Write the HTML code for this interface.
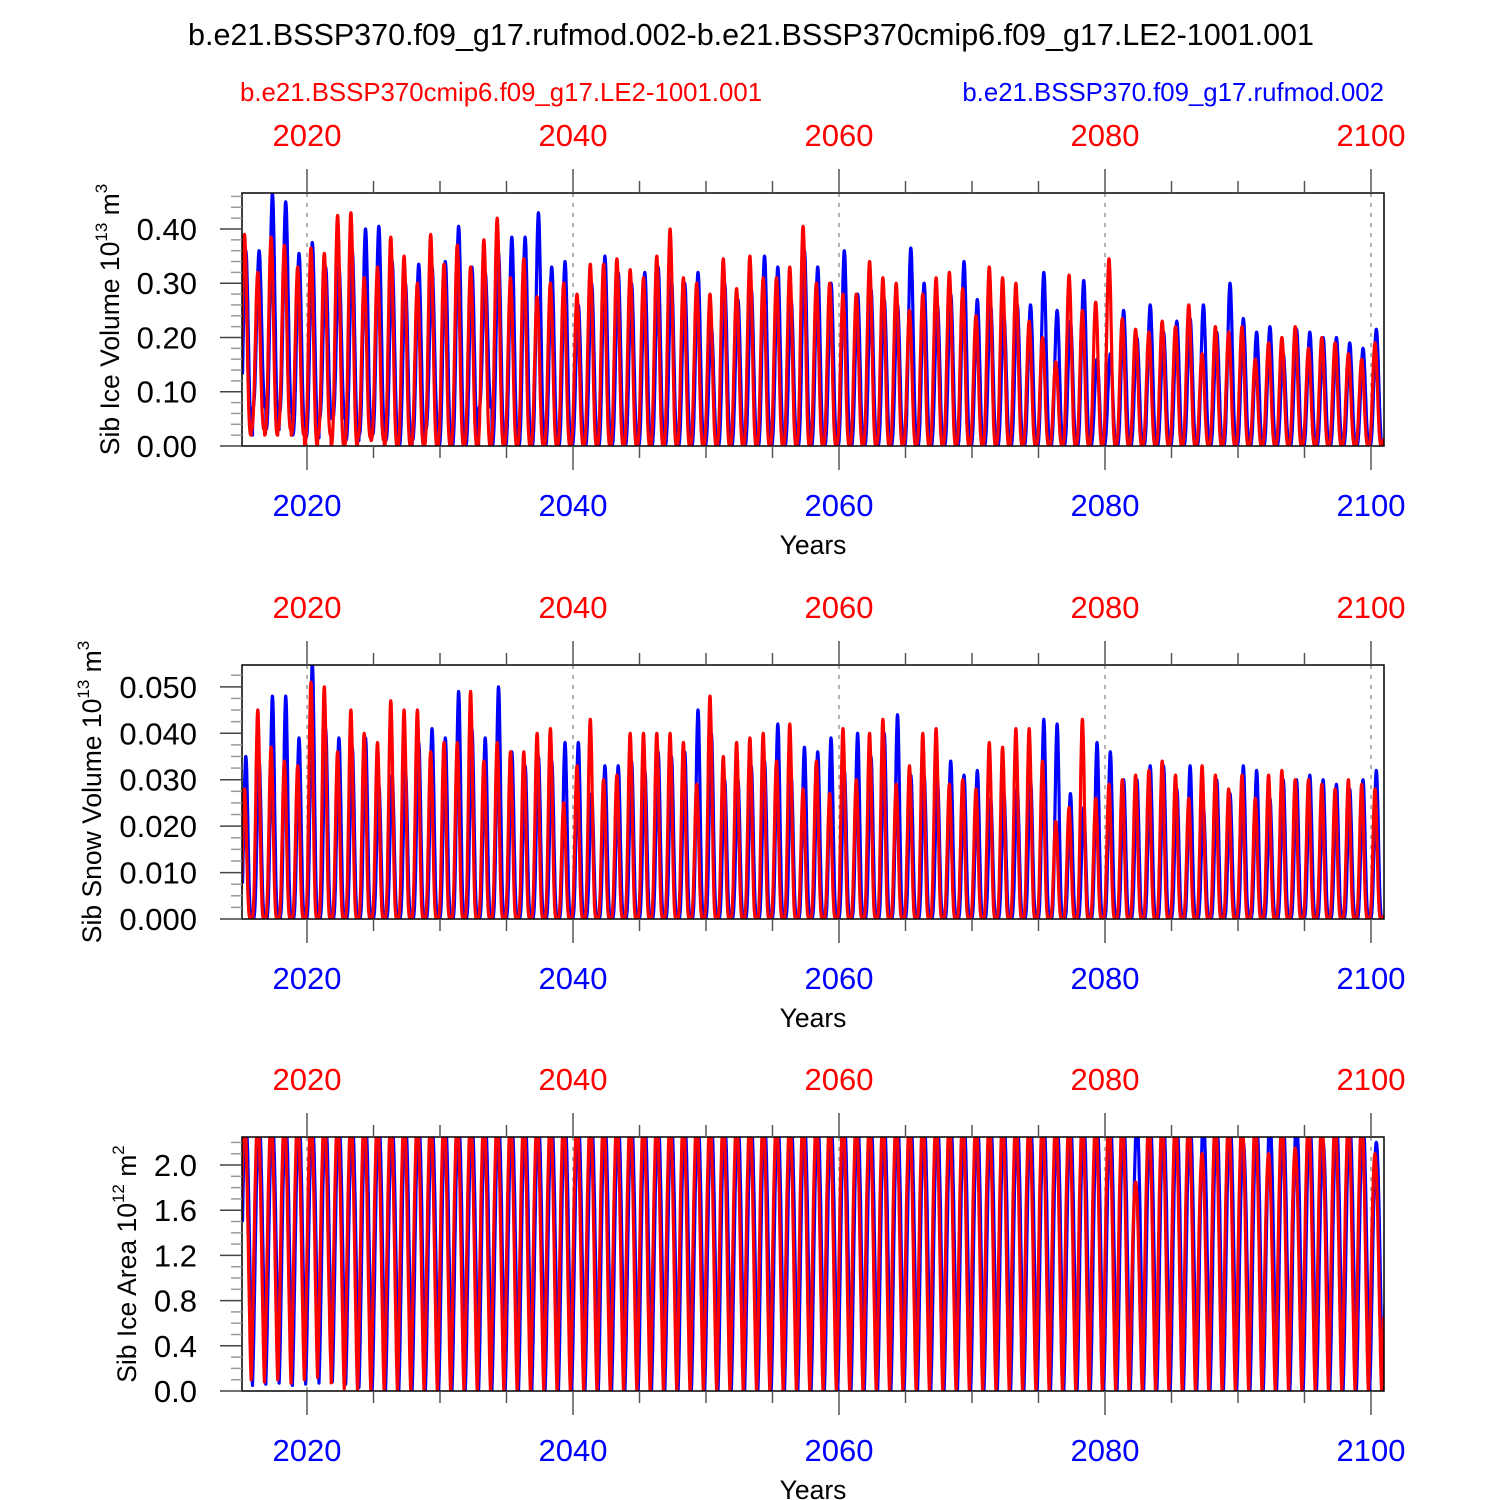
<!DOCTYPE html>
<html><head><meta charset="utf-8"><style>
html,body{margin:0;padding:0;background:#fff;}
svg{display:block;font-family:"Liberation Sans",Arial,sans-serif;}
</style></head><body>
<svg id="chart" width="1500" height="1500" viewBox="0 0 1500 1500">
<text x="751" y="45" font-size="30.5" text-anchor="middle">b.e21.BSSP370.f09_g17.rufmod.002-b.e21.BSSP370cmip6.f09_g17.LE2-1001.001</text>
<text x="240" y="101" font-size="25.8" fill="#ff0000">b.e21.BSSP370cmip6.f09_g17.LE2-1001.001</text>
<text x="1384" y="101" font-size="25.8" fill="#0000ff" text-anchor="end">b.e21.BSSP370.f09_g17.rufmod.002</text>
</svg>
<script>
// ---- data (annual peak / trough values, years 2015..2101) ----
const years = [2020, 2040, 2060, 2080, 2100];
const iceBlueMax = [0.36,0.36,0.465,0.45,0.355,0.375,0.33,0.33,0.36,0.40,0.405,0.34,0.30,0.335,0.33,0.34,0.405,0.33,0.32,0.355,0.385,0.385,0.43,0.33,0.34,0.26,0.30,0.35,0.32,0.30,0.32,0.33,0.31,0.30,0.32,0.22,0.30,0.27,0.29,0.35,0.33,0.27,0.36,0.33,0.30,0.36,0.28,0.29,0.27,0.26,0.365,0.30,0.26,0.28,0.34,0.27,0.26,0.24,0.26,0.26,0.32,0.25,0.23,0.305,0.16,0.17,0.25,0.20,0.26,0.21,0.23,0.235,0.26,0.21,0.30,0.235,0.21,0.22,0.17,0.215,0.21,0.20,0.20,0.19,0.18,0.215,0.20];
const iceRedMax = [0.39,0.32,0.385,0.37,0.33,0.365,0.355,0.425,0.43,0.31,0.33,0.385,0.35,0.30,0.39,0.335,0.37,0.33,0.38,0.42,0.31,0.345,0.275,0.30,0.30,0.28,0.335,0.335,0.345,0.325,0.31,0.35,0.40,0.31,0.30,0.28,0.345,0.29,0.35,0.31,0.31,0.33,0.405,0.30,0.30,0.28,0.28,0.34,0.31,0.30,0.25,0.28,0.31,0.32,0.29,0.24,0.33,0.31,0.30,0.23,0.20,0.155,0.315,0.25,0.265,0.345,0.235,0.215,0.21,0.23,0.22,0.26,0.17,0.22,0.21,0.22,0.16,0.19,0.20,0.22,0.18,0.20,0.19,0.17,0.16,0.19,0.19];
const iceBlueMin = [0.02,0.07,0.03,0.06,0.02,0.015,0.05,0.05,0.01,0.02,0.02,0.01,0.0,0.01,0.03,0.0,0.0,0.0,0.07,0.0,0.0,0.0];
const iceRedMin = [0.02,0.03,0.02,0.03,0.02,0.0,0.02,0.0,0.0,0.015,0.01,0.0,0.0,0.0];
const snowBlueMax = [0.035,0.034,0.048,0.048,0.039,0.055,0.041,0.039,0.037,0.039,0.029,0.031,0.032,0.038,0.041,0.039,0.049,0.041,0.039,0.050,0.036,0.033,0.035,0.034,0.038,0.038,0.027,0.033,0.033,0.034,0.032,0.036,0.035,0.036,0.045,0.040,0.030,0.030,0.033,0.034,0.042,0.031,0.037,0.036,0.039,0.032,0.040,0.035,0.040,0.044,0.031,0.031,0.030,0.034,0.031,0.032,0.026,0.027,0.028,0.030,0.043,0.042,0.027,0.024,0.038,0.036,0.030,0.030,0.033,0.033,0.028,0.033,0.024,0.030,0.027,0.033,0.032,0.026,0.030,0.030,0.031,0.030,0.029,0.028,0.030,0.032,0.030];
const snowRedMax = [0.028,0.045,0.037,0.034,0.033,0.051,0.050,0.036,0.045,0.040,0.038,0.047,0.045,0.045,0.036,0.038,0.038,0.049,0.034,0.038,0.036,0.036,0.040,0.041,0.025,0.033,0.043,0.030,0.031,0.040,0.040,0.040,0.040,0.038,0.029,0.048,0.035,0.038,0.039,0.040,0.034,0.042,0.028,0.034,0.027,0.041,0.030,0.040,0.043,0.029,0.033,0.040,0.041,0.029,0.030,0.028,0.038,0.037,0.041,0.041,0.034,0.021,0.024,0.043,0.026,0.029,0.030,0.031,0.032,0.034,0.031,0.026,0.033,0.031,0.028,0.031,0.026,0.031,0.032,0.030,0.030,0.029,0.028,0.030,0.029,0.028,0.028];
const snowMin = [0.0];
const areaBlueMax = [2.4,2.4,2.4,2.4,2.4,2.4,2.4,2.4,2.4,2.4,2.4,2.4,2.4,2.4,2.4,2.4,2.4,2.4,2.4,2.4,2.4,2.4,2.4,2.4,2.4,2.4,2.4,2.4,2.4,2.4,2.4,2.4,2.4,2.4,2.4,2.4,2.4,2.4,2.4,2.4,2.4,2.4,2.4,2.4,2.4,2.4,2.4,2.4,2.4,2.4,2.4,2.4,2.4,2.4,2.4,2.4,2.4,2.4,2.4,2.4,2.4,2.4,2.4,2.4,2.4,2.4,2.4,2.4,2.4,2.4,2.4,2.4,2.4,2.4,2.4,2.2,2.4,2.4,2.4,2.4,2.4,2.2,2.4,2.4,2.4,2.2,2.4];
const areaRedMax = [2.4,2.4,2.4,2.4,2.4,2.4,2.4,2.4,2.4,2.4,2.4,2.4,2.4,2.4,2.4,2.4,2.4,2.4,2.4,2.4,2.4,2.4,2.4,2.4,2.4,2.4,2.4,2.4,2.4,2.4,2.4,2.4,2.4,2.4,2.4,2.4,2.4,2.4,2.4,2.4,2.4,2.4,2.4,2.4,2.4,2.4,2.4,2.4,2.4,2.4,2.4,2.4,2.4,2.4,2.4,2.4,2.4,2.4,2.4,2.4,2.4,2.4,2.4,2.4,2.4,2.4,2.4,1.85,2.4,2.4,2.4,2.4,2.1,2.4,2.4,2.4,2.4,2.1,2.4,2.15,2.4,2.4,2.4,2.4,2.4,2.1,2.05];
const areaBlueMin = [0.05,0.06,0.07,0.05,0.06,0.07,0.08,0.06,0.03,0.0];
const areaRedMin = [0.1,0.08,0.1,0.07,0.1,0.12,0.2,0.02,0.0];

const svg = document.getElementById('chart');
const NS = 'http://www.w3.org/2000/svg';
const X0 = 242, X1 = 1384;
function xs(t){ return 307 + (t - 2020) * 13.3; }
function mk(tag, attrs){ const e = document.createElementNS(NS, tag); for (const k in attrs) e.setAttribute(k, attrs[k]); svg.appendChild(e); return e; }
function pick(arr, i){ return i < arr.length ? arr[i] : arr[arr.length - 1]; }

function panel(cfg){
  const {top, bot, ymax, major, minor, fmt, title, sup, unit, series, pw, name} = cfg;
  const ys = v => bot - (v / ymax) * (bot - top);
  const cid = 'clip-' + name;
  const cp = mk('clipPath', {id: cid});
  const r = document.createElementNS(NS, 'rect');
  r.setAttribute('x', X0); r.setAttribute('y', top); r.setAttribute('width', X1 - X0); r.setAttribute('height', bot - top);
  cp.appendChild(r);
  years.forEach(y => {
    const g = mk('line', {x1: xs(y), x2: xs(y), y1: top, y2: bot, stroke: '#999', 'stroke-width': 1.5, 'stroke-dasharray': '4,6'});
    
    
  });
  series.forEach(s => {
    let pts = [];
    for (let t = 2015.1; t <= 2101.0; t += 1/48) {
      const k = Math.round(t - 0.35) - 2015;
      const ph = 2 * Math.PI * (t - 0.35);
      let b = (1 + Math.cos(ph)) / 2;
      b = Math.pow(b, pw);
      const mx = pick(s.max, Math.max(0, k)), mn = pick(s.min, Math.max(0, k));
      const v = mn + (mx - mn) * b;
      pts.push(xs(t + s.off).toFixed(1) + ',' + ys(v).toFixed(1));
    }
    const pl = mk('polyline', {points: pts.join(' '), fill: 'none', stroke: s.color, 'stroke-width': 3.2, 'stroke-linejoin': 'round', 'clip-path': 'url(#' + cid + ')'});
    
    
  });
  const fr = mk('rect', {x: X0, y: top, width: X1 - X0, height: bot - top, fill: 'none', stroke: '#000', 'stroke-width': 1.5});
  
  
  for (let y = 2020; y <= 2100; y += 5) {
    const big = y % 20 === 0;
    const L = big ? 24 : 12;
    mk('line', {x1: xs(y), x2: xs(y), y1: top, y2: top - L, stroke: '#555', 'stroke-width': 1.5});
    mk('line', {x1: xs(y), x2: xs(y), y1: bot, y2: bot + L, stroke: '#555', 'stroke-width': 1.5});
  }
  years.forEach(y => {
    const a = mk('text', {x: xs(y), y: top - 47, 'font-size': 31, fill: '#ff0000', 'text-anchor': 'middle'});
    a.textContent = y;
    
    
    const b = mk('text', {x: xs(y), y: bot + 70, 'font-size': 31, fill: '#0000ff', 'text-anchor': 'middle'});
    b.textContent = y;
    
    
  });
  const xl = mk('text', {x: 813, y: bot + 108, 'font-size': 26.5, 'text-anchor': 'middle'});
  xl.textContent = 'Years';
  
  
  for (let v = 0; v <= ymax + 1e-9; v += minor) {
    const isMaj = Math.abs(v / major - Math.round(v / major)) < 1e-6;
    mk('line', {x1: X0, x2: X0 - (isMaj ? 22 : 11), y1: ys(v), y2: ys(v), stroke: isMaj ? '#444' : '#999', 'stroke-width': 1.5});
    if (isMaj) {
      const tl = mk('text', {x: 197, y: ys(v) + 11, 'font-size': 31, 'text-anchor': 'end'});
      tl.textContent = fmt(v);
      
      
    }
  }
  const yc = (top + bot) / 2;
  const yt = mk('text', {x: cfg.tx, y: yc, 'font-size': 26.5, 'text-anchor': 'middle', transform: 'rotate(-90 ' + cfg.tx + ' ' + yc + ')'});
  yt.innerHTML = title + ' 10<tspan font-size="17" dy="-12">' + sup + '</tspan><tspan dy="12"> ' + unit + '</tspan><tspan font-size="17" dy="-12">' + (cfg.usup || '') + '</tspan>';
  
  
}

panel({name: 'ice-volume', top: 193, bot: 446, ymax: 0.4663, major: 0.1, minor: 0.02, fmt: v => v.toFixed(2), title: 'Sib Ice Volume', sup: '13', unit: 'm', usup: '3', tx: 119, pw: 1.6,
  series: [{label: 'blue', color: '#0000ff', max: iceBlueMax, min: iceBlueMin, off: 0.05}, {label: 'red', color: '#ff0000', max: iceRedMax, min: iceRedMin, off: -0.05}]});
panel({name: 'snow-volume', top: 665, bot: 919, ymax: 0.0547, major: 0.01, minor: 0.0025, fmt: v => v.toFixed(3), title: 'Sib Snow Volume', sup: '13', unit: 'm', usup: '3', tx: 101, pw: 2.2,
  series: [{label: 'blue', color: '#0000ff', max: snowBlueMax, min: snowMin, off: 0.05}, {label: 'red', color: '#ff0000', max: snowRedMax, min: snowMin, off: -0.05}]});
panel({name: 'ice-area', top: 1137, bot: 1391, ymax: 2.248, major: 0.4, minor: 0.1, fmt: v => v.toFixed(1), title: 'Sib Ice Area', sup: '12', unit: 'm', usup: '2', tx: 136, pw: 0.7,
  series: [{label: 'blue', color: '#0000ff', max: areaBlueMax, min: areaBlueMin, off: 0.05}, {label: 'red', color: '#ff0000', max: areaRedMax, min: areaRedMin, off: -0.05}]});
</script>
</body></html>
